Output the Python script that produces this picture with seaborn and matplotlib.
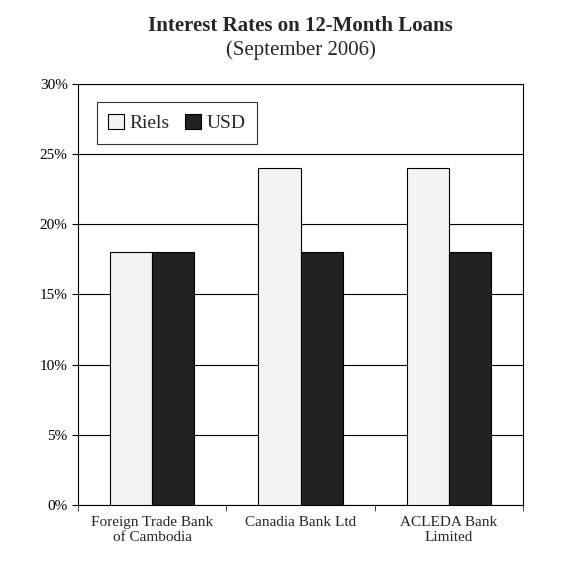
import matplotlib
matplotlib.use('Agg')
from matplotlib import pyplot as plt
from matplotlib.ticker import FuncFormatter, FixedLocator
import pandas as pd
import seaborn as sns

banks = ['Foreign Trade Bank\nof Cambodia', 'Canadia Bank Ltd', 'ACLEDA Bank\nLimited']
riels = [18, 24, 24]
usd = [18, 18, 18]

df = pd.DataFrame({
    'Bank': banks * 2,
    'Rate': riels + usd,
    'Currency': ['Riels'] * 3 + ['USD'] * 3,
})

sns.set_style('white')
plt.rcParams['font.family'] = ['Liberation Serif', 'DejaVu Serif']

fig = plt.figure(figsize=(5.78, 5.63), dpi=100)
ax = fig.add_axes([0.135, 0.103, 0.77, 0.748])
sns.barplot(data=df, x='Bank', y='Rate', hue='Currency',
            palette={'Riels': '#f3f3f3', 'USD': '#222222'},
            edgecolor='black', linewidth=0.8, width=0.57, ax=ax, zorder=3)

ax.set_ylim(0, 30)
ax.set_xlim(-0.5, 2.5)
ax.yaxis.set_major_locator(FixedLocator(range(0, 31, 5)))
ax.yaxis.set_major_formatter(FuncFormatter(lambda v, p: f'{v:.0f}%'))
ax.grid(axis='y', color='black', linewidth=0.8, zorder=0)
ax.set_xlabel('')
ax.set_ylabel('')
for s in ax.spines.values():
    s.set_color('black')
    s.set_linewidth(0.8)
ax.tick_params(axis='y', left=True, direction='out', length=4, labelsize=11, colors='black')
ax.tick_params(axis='x', which='major', length=0, labelsize=11, pad=8)
ax.xaxis.set_minor_locator(FixedLocator([-0.5, 0.5, 1.5, 2.5]))
ax.tick_params(axis='x', which='minor', bottom=True, direction='out', length=4)

leg = ax.legend(loc='upper left', bbox_to_anchor=(0.02, 0.98), ncol=2, fontsize=14,
                frameon=True, fancybox=False, edgecolor='black',
                handlelength=0.8, handleheight=0.8, handletextpad=0.3, columnspacing=0.8,
                borderpad=0.6)
leg.get_frame().set_linewidth(0.8)

fig.text(0.52, 0.945, 'Interest Rates on 12-Month Loans', ha='center', fontsize=15, fontweight='bold')
fig.text(0.52, 0.903, '(September 2006)', ha='center', fontsize=15)

fig.savefig('out.png', dpi=100)
